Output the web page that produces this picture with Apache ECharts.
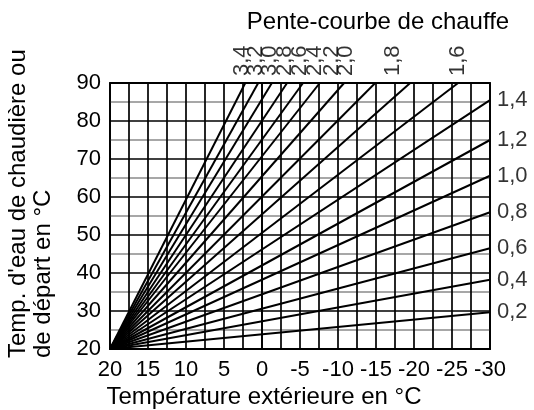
<!DOCTYPE html>
<html>
<head>
<meta charset="utf-8">
<script src="https://cdn.jsdelivr.net/npm/echarts@6/dist/echarts.min.js"></script>
<style>
  html, body { margin: 0; padding: 0; background: #fff; }
  #chart { width: 534px; height: 410px; }
</style>
</head>
<body>
<div id="chart"></div>
<script>
// all curves start at the same point
var startX = 20
var startY = 20

// slope names and where each line leaves the grid
var slopeNames = ['0,2', '0,4', '0,6', '0,8', '1,0', '1,2', '1,4', '1,6', '1,8',
                  '2,0', '2,2', '2,4', '2,6', '2,8', '3,0', '3,2', '3,4']
var endX = [-30, -30, -30, -30, -30, -30, -30, -25.8, -19.5,
            -14.9, -10.8, -7.6, -5.4, -3.3, -1.3, 0.5, 2.2]
var endY = [29.7, 38.2, 46.5, 56, 65.6, 75, 85.5, 90, 90,
            90, 90, 90, 90, 90, 90, 90, 90]

// labels written above the top edge
var topLabelNames = ['1,6', '1,8', '2,0', '2,2', '2,4', '2,6', '2,8', '3,0', '3,2', '3,4']
var topLabelX = [-25.8, -17.2, -11.1, -9.2, -7.0, -5.0, -3.0, -1.05, 0.8, 2.7]

var font = "'Liberation Sans', Arial, sans-serif"

var myChart = echarts.init(document.getElementById('chart'), null, { renderer: 'canvas' })

var series = []
slopeNames.forEach(function (name, i) {
    series.push({
        type: 'line',
        name: name,
        data: [[startX, startY], [endX[i], endY[i]]],
        showSymbol: false,
        silent: true,
        animation: false,
        lineStyle: { color: '#000', width: 2 }
    })
})

// labels at the right edge (lines that end at -30)
var rightPoints = []
slopeNames.forEach(function (name, i) {
    if (endX[i] === -30) rightPoints.push({ value: [endX[i], endY[i]], name: name })
})
series.push({
    type: 'scatter',
    data: rightPoints,
    symbolSize: 0,
    silent: true,
    animation: false,
    label: {
        show: true,
        formatter: '{b}',
        position: 'right',
        distance: 7,
        color: '#000',
        fontSize: 22,
        fontFamily: font
    }
})

// top labels, rotated
series.push({
    type: 'scatter',
    data: topLabelX.map(function (x, i) { return { value: [x, 90], name: topLabelNames[i] } }),
    symbolSize: 0,
    silent: true,
    animation: false,
    label: {
        show: true,
        formatter: '{b}',
        position: 'top',
        distance: 7,
        rotate: 90,
        align: 'left',
        verticalAlign: 'middle',
        color: '#000',
        fontSize: 22,
        fontFamily: font
    }
})

var option = {
    backgroundColor: '#fff',
    animation: false,
    grid: {
        left: 110, right: 44, top: 83, bottom: 61,
        show: true, borderColor: '#000', borderWidth: 1.8
    },
    xAxis: {
        type: 'value',
        min: -30, max: 20, interval: 5,
        inverse: true,
        axisLine: { lineStyle: { color: '#000', width: 1.8 } },
        axisTick: { show: false },
        axisLabel: { color: '#000', fontSize: 22, fontFamily: font, margin: 10 },
        splitLine: { lineStyle: { color: '#000', width: 1.7 } },
        minorTick: { show: false, splitNumber: 2 },
        minorSplitLine: { show: true, lineStyle: { color: '#000', width: 1.7 } }
    },
    yAxis: {
        type: 'value',
        min: 20, max: 90, interval: 10,
        axisLine: { lineStyle: { color: '#000', width: 1.8 } },
        axisTick: { show: false },
        axisLabel: { color: '#000', fontSize: 22, fontFamily: font, margin: 9 },
        splitLine: { lineStyle: { color: '#000', width: 1.7 } },
        minorTick: { show: false, splitNumber: 2 },
        minorSplitLine: { show: true, lineStyle: { color: '#8a8a8a', width: 1.7 } }
    },
    graphic: [
        {
            type: 'text', x: 378, y: 22,
            style: { text: 'Pente-courbe de chauffe', fill: '#000', font: '24px ' + font,
                     textAlign: 'center', textVerticalAlign: 'middle' }
        },
        {
            type: 'text', x: 18, y: 358, rotation: Math.PI / 2,
            style: { text: "Temp. d'eau de chaudière ou", fill: '#000', font: '24px ' + font,
                     textAlign: 'left', textVerticalAlign: 'middle' }
        },
        {
            type: 'text', x: 43, y: 358, rotation: Math.PI / 2,
            style: { text: 'de départ en °C', fill: '#000', font: '24px ' + font,
                     textAlign: 'left', textVerticalAlign: 'middle' }
        },
        {
            type: 'text', x: 264, y: 397,
            style: { text: 'Température extérieure en °C', fill: '#000', font: '24px ' + font,
                     textAlign: 'center', textVerticalAlign: 'middle' }
        }
    ],
    series: series
}

option && myChart.setOption(option)
</script>
</body>
</html>
